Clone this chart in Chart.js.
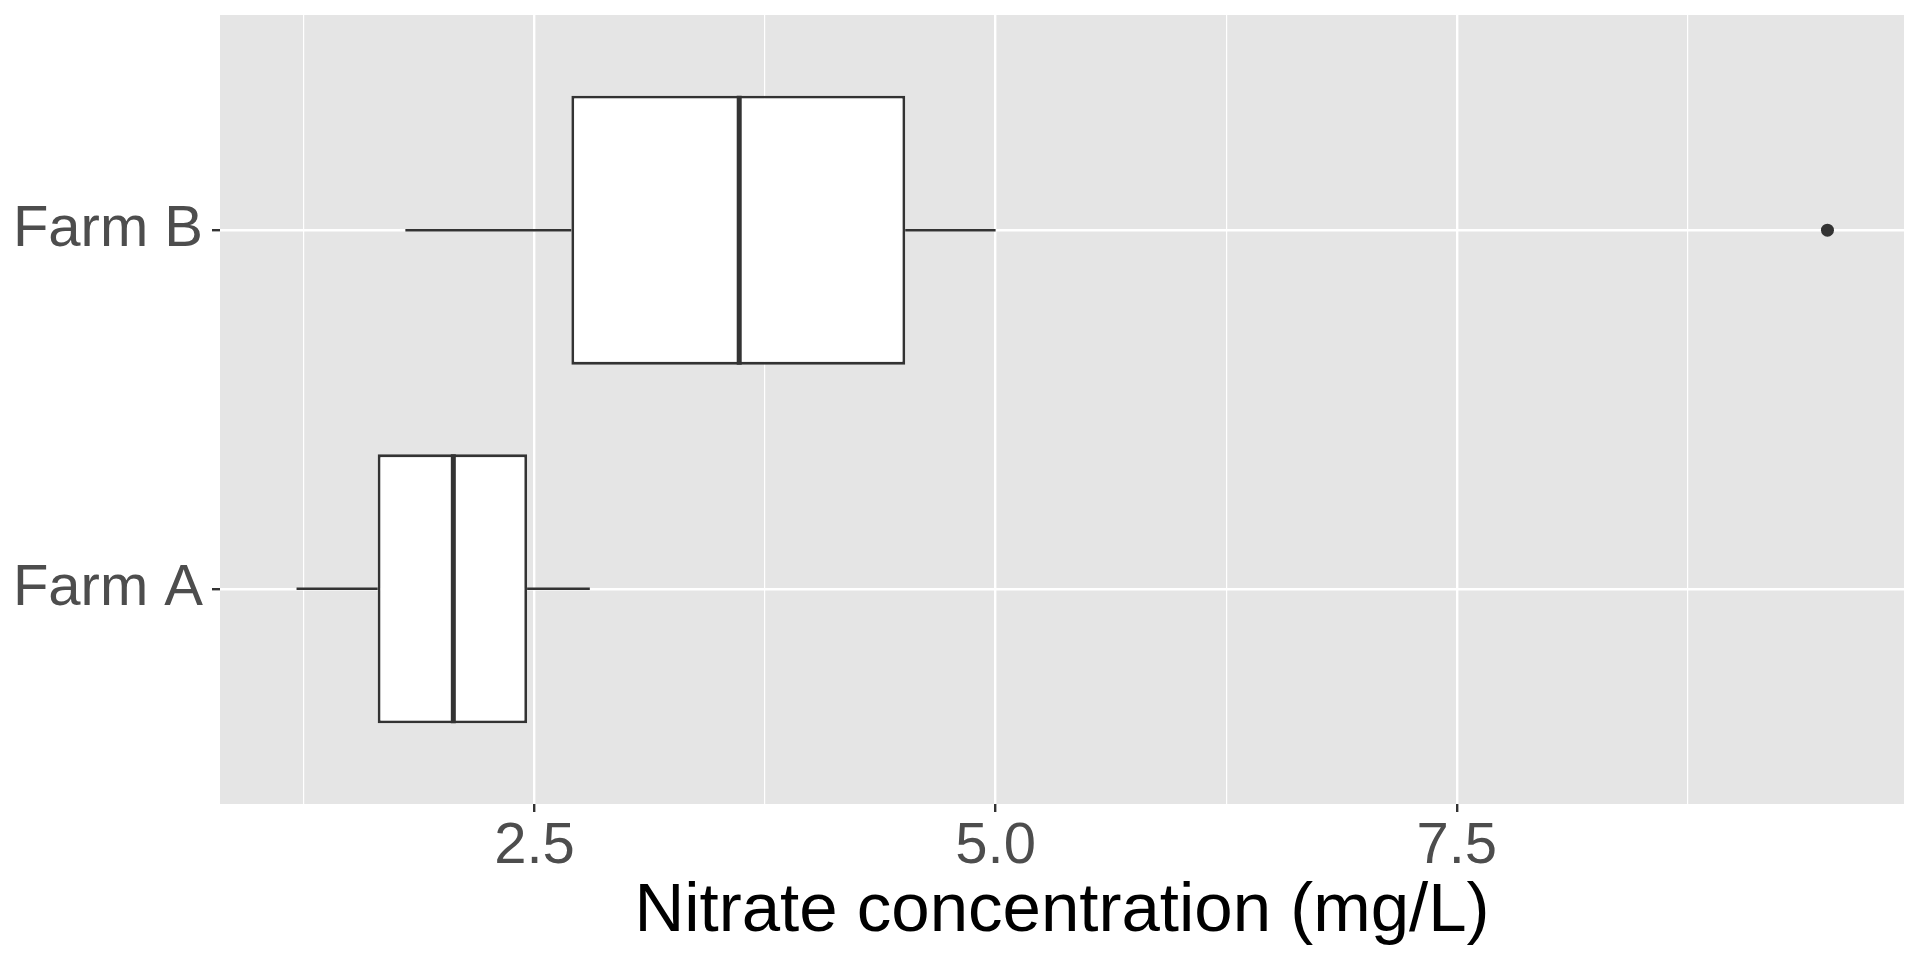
<!DOCTYPE html>
<html>
<head>
<meta charset="utf-8">
<title>Nitrate concentration by farm</title>
<script src="https://cdn.jsdelivr.net/npm/chart.js@4.4.1/dist/chart.umd.min.js"></script>
<style>
    html, body { margin: 0; padding: 0; background: #ffffff; }
    #wrap { width: 1920px; height: 960px; position: relative; }
</style>
</head>
<body>
<div id="wrap"><canvas id="myChart"></canvas></div>
<script>
// box stats, one entry per farm (Farm A at the bottom)
const categories = ['Farm A', 'Farm B']
const whiskerLow = [1.21, 1.80]
const q1 = [1.65, 2.70]
const median = [2.06, 3.61]
const q3 = [2.46, 4.51]
const whiskerHigh = [2.80, 5.00]
const outlierFarm = ['Farm B']
const outlierValue = [9.51]

const xTickValues = [2.5, 5.0, 7.5]
const xTickLabels = ['2.5', '5.0', '7.5']
const xMinorValues = [1.25, 3.75, 6.25, 8.75]

const boxWidth = 0.75
const dark = '#333333'
const fontFamily = '"Liberation Sans", Arial, Helvetica, sans-serif'

// ggplot style 5% expansion around the data
const allValues = whiskerLow.concat(whiskerHigh, outlierValue)
const dataMin = Math.min(...allValues)
const dataMax = Math.max(...allValues)
const pad = (dataMax - dataMin) * 0.05

const catPos = (name) => categories.indexOf(name) + 1

const isMajor = (v) => xTickValues.some(t => Math.abs(t - v) < 1e-6)
const tickVal = (c) => (c && c.tick) ? c.tick.value : NaN

const datasets = []

// whiskers and median lines
categories.forEach((cat, i) => {
    const y = i + 1
    datasets.push({
        type: 'line',
        data: [{ x: whiskerLow[i], y: y }, { x: q1[i], y: y }],
        borderColor: dark,
        borderWidth: 2.6,
        pointRadius: 0,
        order: 3
    })
    datasets.push({
        type: 'line',
        data: [{ x: q3[i], y: y }, { x: whiskerHigh[i], y: y }],
        borderColor: dark,
        borderWidth: 2.6,
        pointRadius: 0,
        order: 3
    })
    datasets.push({
        type: 'line',
        indexAxis: 'y',
        data: [{ x: median[i], y: y - boxWidth / 2 }, { x: median[i], y: y + boxWidth / 2 }],
        borderColor: dark,
        borderWidth: 5,
        borderCapStyle: 'butt',
        pointRadius: 0,
        order: 1
    })
})

// boxes
datasets.push({
    type: 'bar',
    indexAxis: 'y',
    data: categories.map((cat, i) => ({ x: [q1[i], q3[i]], y: i + 1 })),
    backgroundColor: '#ffffff',
    borderColor: dark,
    borderWidth: 2.8,
    borderSkipped: false,
    grouped: false,
    categoryPercentage: 1,
    barPercentage: boxWidth,
    order: 2
})

// outliers
datasets.push({
    type: 'line',
    data: outlierValue.map((v, i) => ({ x: v, y: catPos(outlierFarm[i]) })),
    showLine: false,
    pointRadius: 6.5,
    pointHoverRadius: 6.5,
    pointBackgroundColor: dark,
    pointBorderWidth: 0,
    order: 0
})

const panelBackground = {
    id: 'panelBackground',
    beforeDraw: (chart) => {
        const { ctx, chartArea } = chart
        ctx.save()
        ctx.fillStyle = '#E5E5E5'
        ctx.fillRect(chartArea.left, chartArea.top, chartArea.right - chartArea.left, chartArea.bottom - chartArea.top)
        ctx.restore()
    }
}

const ctx = document.querySelector('#myChart').getContext('2d')

new Chart(ctx, {
    type: 'bar',
    data: { datasets: datasets },
    options: {
        responsive: true,
        maintainAspectRatio: false,
        animation: false,
        devicePixelRatio: 1,
        layout: { padding: { top: 15, right: 16, left: 0, bottom: 0 } },
        plugins: {
            legend: { display: false },
            tooltip: { enabled: false }
        },
        scales: {
            x: {
                type: 'linear',
                position: 'bottom',
                offset: false,
                min: dataMin - pad,
                max: dataMax + pad,
                afterFit: (scale) => {
                    scale.height = 156
                    scale.paddingLeft = 0
                    scale.paddingRight = 0
                },
                afterBuildTicks: (scale) => {
                    scale.ticks = xMinorValues.concat(xTickValues).sort((a, b) => a - b).map(v => ({ value: v }))
                },
                ticks: {
                    autoSkip: false,
                    maxRotation: 0,
                    padding: 0,
                    color: '#4D4D4D',
                    font: { family: fontFamily, size: 58 },
                    callback: (value) => {
                        const k = xTickValues.findIndex(t => Math.abs(t - value) < 1e-6)
                        return k >= 0 ? xTickLabels[k] : ''
                    }
                },
                grid: {
                    offset: false,
                    color: '#ffffff',
                    lineWidth: (c) => isMajor(tickVal(c)) ? 2.4 : 1.2,
                    tickColor: (c) => isMajor(tickVal(c)) ? dark : 'rgba(0,0,0,0)',
                    tickWidth: 2.4,
                    tickLength: 8
                },
                border: { display: false },
                title: {
                    display: true,
                    text: 'Nitrate concentration (mg/L)',
                    color: '#000000',
                    font: { family: fontFamily, size: 69, lineHeight: 1 },
                    padding: { top: 0, bottom: 14 }
                }
            },
            y: {
                type: 'linear',
                position: 'left',
                offset: false,
                min: 0.4,
                max: categories.length + 0.6,
                afterFit: (scale) => {
                    scale.width = 220
                    scale.paddingTop = 0
                    scale.paddingBottom = 0
                },
                afterBuildTicks: (scale) => {
                    scale.ticks = categories.map((c, i) => ({ value: i + 1 }))
                },
                ticks: {
                    autoSkip: false,
                    padding: 9,
                    color: '#4D4D4D',
                    font: { family: fontFamily, size: 58 },
                    callback: (value) => categories[Math.round(value) - 1] || ''
                },
                grid: {
                    offset: false,
                    color: '#ffffff',
                    lineWidth: 2.4,
                    tickColor: dark,
                    tickWidth: 2.4,
                    tickLength: 8
                },
                border: { display: false }
            }
        }
    },
    plugins: [panelBackground]
})
</script>
</body>
</html>
